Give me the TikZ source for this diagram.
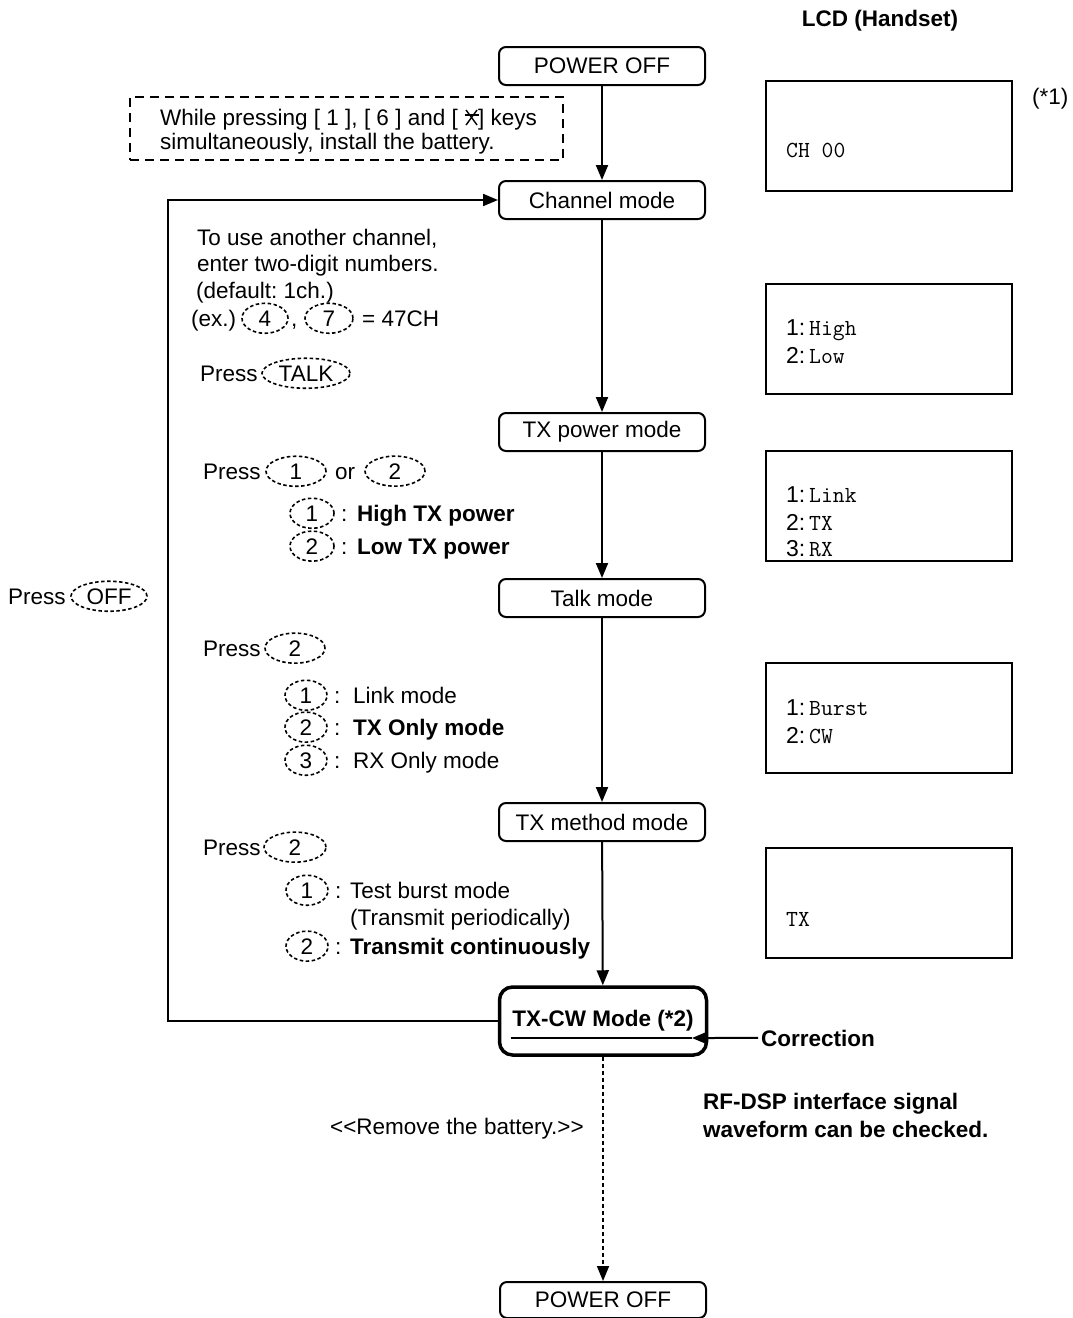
\documentclass[tikz,border=0pt]{standalone}
\usepackage{fontspec}
\setmainfont{Liberation Sans}
\setsansfont{Liberation Sans}
\usetikzlibrary{arrows.meta,calc}
\frenchspacing
\newcommand\keyel[5]{%
  \node[anchor=base] (#1) at (#2,#3) {#4};
  \draw[keyring] (#1.center) ellipse [x radius=#5pt, y radius=15pt];}
\begin{document}
\begin{tikzpicture}[x=1pt,y=-1pt,
  every node/.style={font=\fontsize{22.5}{27}\selectfont, inner sep=0pt},
  flowbox/.style={draw, line width=2pt, rounded corners=7pt, minimum width=206pt, minimum height=38pt},
  lcdbox/.style={draw, line width=2.5pt, minimum width=246pt, minimum height=110pt},
  arr/.style={line width=2pt, -{Triangle[length=15pt,width=12pt]}},
  txt/.style={anchor=base west},
  bt/.style={anchor=base west, font=\fontsize{22.5}{27}\selectfont\bfseries},
  lcdt/.style={anchor=base west, font=\fontsize{23}{27}\selectfont},
  keyring/.style={line width=1.6pt, dash pattern=on 3.5pt off 2.5pt},
]
\useasboundingbox (0,0) rectangle (1073,1318);

% flow boxes
\node[flowbox] (pwr1) at (602,66) {POWER OFF};
\node[flowbox] (chan) at (602,200) {Channel mode};
\node[flowbox] (txp) at (602,432) {TX power mode};
\node[flowbox] (talk) at (602,598) {Talk mode};
\node[flowbox] (txm) at (602,822) {TX method mode};
\node[flowbox, line width=3.5pt, rounded corners=13pt, minimum width=207pt, minimum height=68pt,
      font=\fontsize{22.5}{27}\selectfont\bfseries] (txcw) at (603,1021) {TX-CW Mode (*2)};
\node[flowbox, minimum height=36pt] (pwr2) at (603,1300) {POWER OFF};

% arrows
\draw[arr] (pwr1) -- (chan);
\draw[arr] (chan) -- (txp);
\draw[arr] (txp) -- (talk);
\draw[arr] (talk) -- (txm);
\draw[arr] (txm) -- (txcw);
\draw[arr, line width=1.6pt, dash pattern=on 4pt off 3pt] (txcw) -- (pwr2);
\coordinate (lx) at (168,0);
\draw[arr] (txcw.west) -- (txcw.west -| lx) |- (chan.west);

% underline and correction
\coordinate (ulL) at (511,1038);
\coordinate (ulR) at (692,1038);
\draw[line width=2pt] (ulL) -- (ulR);
\node[bt] (corr) at (761,1046) {Correction};
\draw[arr] ([xshift=-3pt]corr.west) -- (ulR);

% note box
\node[draw, line width=2pt, dash pattern=on 9pt off 6pt, minimum width=433pt, minimum height=63pt] (note) at (346.5,128.5) {};
\node[txt] (n1) at (160,125) {While pressing [ 1 ], [ 6 ] and [};
\coordinate (star) at ($(n1.base east)+(7,0)$);
\draw[line width=1.4pt] ($(star)+(1,0)$) -- ++(11,-15);
\draw[line width=1.4pt] ($(star)+(1,-15)$) -- ++(11,15);
\draw[line width=1.4pt] ($(star)+(-0.5,-10)$) -- ++(14,0);
\node[txt] (n1b) at ($(star)+(13,0)$) {] keys};
\node[txt] (n2) at (160,149) {simultaneously, install the battery.};

% channel texts
\node[txt] (t1) at (197,245) {To use another channel,};
\node[txt] (t2) at (197,271) {enter two-digit numbers.};
\node[txt] (t3) at (196,298) {(default: 1ch.)};
\node[txt] (t4) at (191,326) {(ex.)};
\keyel{k4}{265}{326}{4}{23}
\node[txt] (t4c) at (291,326) {,};
\keyel{k7}{329}{326}{7}{24}
\node[txt] (t4e) at (362,326) {= 47CH};
\node[txt] (t5) at (200,381) {Press};
\keyel{ktalk}{306}{381}{TALK}{44}

% TX power texts
\node[txt] (p1) at (203,479) {Press};
\keyel{kp1}{296}{479}{1}{30}
\node[txt] (p1o) at (335,479) {or};
\keyel{kp2}{395}{479}{2}{30}
\keyel{kh1}{312}{521}{1}{22}
\node[txt] (h1c) at (341,521) {:};
\node[bt] (h1t) at (357,521) {High TX power};
\keyel{kh2}{312}{554}{2}{22}
\node[txt] (h2c) at (341,554) {:};
\node[bt] (h2t) at (357,554) {Low TX power};

% press off
\node[txt] (off) at (8,604) {Press};
\keyel{koff}{109}{604}{OFF}{38}

% talk texts
\node[txt] (q1) at (203,656) {Press};
\keyel{kq2}{295}{656}{2}{30}
\keyel{kl1}{306}{703}{1}{21}
\node[txt] (l1c) at (334,703) {:};
\node[txt] (l1t) at (353,703) {Link mode};
\keyel{kl2}{306}{735}{2}{21}
\node[txt] (l2c) at (334,735) {:};
\node[bt] (l2t) at (353,735) {TX Only mode};
\keyel{kl3}{306}{768}{3}{21}
\node[txt] (l3c) at (334,768) {:};
\node[txt] (l3t) at (353,768) {RX Only mode};

% TX method texts
\node[txt] (m1) at (203,855) {Press};
\keyel{km2}{295}{855}{2}{31}
\keyel{kb1}{307}{898}{1}{21}
\node[txt] (b1c) at (335,898) {:};
\node[txt] (b1t) at (350,898) {Test burst mode};
\node[txt] (b1u) at (350,925) {(Transmit periodically)};
\keyel{kb2}{307}{954}{2}{21}
\node[txt] (b2c) at (335,954) {:};
\node[bt] (b2t) at (350,954) {Transmit continuously};

% bottom texts
\node[txt] (rem) at (330,1134) {<{}<Remove the battery.>{}>};
\node[bt] (rf1) at (703,1109) {RF-DSP interface signal};
\node[bt] (rf2) at (703,1137) {waveform can be checked.};

% LCD
\node[anchor=base, font=\fontsize{22.5}{27}\selectfont\bfseries] (lcdh) at (880,26) {LCD (Handset)};
\node[txt] (s1) at (1032,104) {(*1)};
\node[lcdbox] (lcd1) at (889,136) {};
\node[lcdbox] (lcd2) at (889,339) {};
\node[lcdbox] (lcd3) at (889,506) {};
\node[lcdbox] (lcd4) at (889,718) {};
\node[lcdbox] (lcd5) at (889,903) {};
\node[lcdt] (d1) at (786,157) {\ttfamily CH 00};
\node[lcdt] (d2a) at (786,335) {1:\,\ttfamily High};
\node[lcdt] (d2b) at (786,363) {2:\,\ttfamily Low};
\node[lcdt] (d3a) at (786,502) {1:\,\ttfamily Link};
\node[lcdt] (d3b) at (786,530) {2:\,\ttfamily TX};
\node[lcdt] (d3c) at (786,556) {3:\,\ttfamily RX};
\node[lcdt] (d4a) at (786,715) {1:\,\ttfamily Burst};
\node[lcdt] (d4b) at (786,743) {2:\,\ttfamily CW};
\node[lcdt] (d5) at (786,926) {\ttfamily TX};
\end{tikzpicture}
\end{document}
